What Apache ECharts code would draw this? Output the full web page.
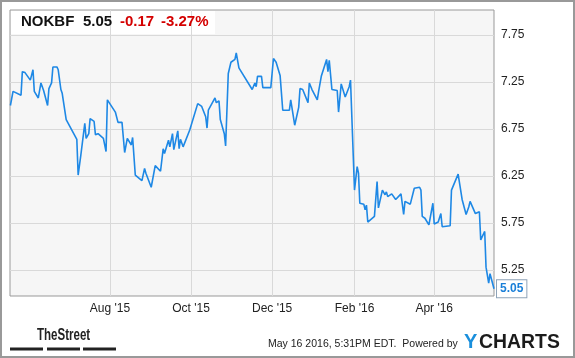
<!DOCTYPE html>
<html><head><meta charset="utf-8">
<script src="https://cdn.jsdelivr.net/npm/echarts@6/dist/echarts.min.js"></script>
<style>html,body{margin:0;padding:0;background:#fff}#c{width:575px;height:358px}</style>
</head><body><div id="c"></div>
<script>
var dates = ['2015-05-18','2015-05-20','2015-05-26','2015-05-27','2015-05-29','2015-06-02','2015-06-04','2015-06-05','2015-06-08','2015-06-10',
'2015-06-12','2015-06-15','2015-06-16','2015-06-18','2015-06-19','2015-06-22','2015-06-23','2015-06-25','2015-06-26','2015-06-29',
'2015-06-30','2015-07-07','2015-07-08','2015-07-10','2015-07-13','2015-07-14','2015-07-16','2015-07-17','2015-07-20','2015-07-21',
'2015-07-23','2015-07-27','2015-07-29','2015-07-30','2015-07-31','2015-08-05','2015-08-07','2015-08-10','2015-08-12','2015-08-14',
'2015-08-17','2015-08-18','2015-08-20','2015-08-25','2015-08-27','2015-08-28','2015-09-01','2015-09-04','2015-09-08','2015-09-10',
'2015-09-11','2015-09-14','2015-09-15','2015-09-17','2015-09-18','2015-09-21','2015-09-22','2015-09-23','2015-09-25','2015-09-30',
'2015-10-06','2015-10-09','2015-10-12','2015-10-13','2015-10-14','2015-10-19','2015-10-20','2015-10-22','2015-10-23','2015-10-26',
'2015-10-27','2015-10-28','2015-10-29','2015-10-31','2015-11-03','2015-11-04','2015-11-06','2015-11-16','2015-11-18','2015-11-19',
'2015-11-20','2015-11-23','2015-11-24','2015-11-30','2015-12-02','2015-12-04','2015-12-07','2015-12-09','2015-12-14','2015-12-15',
'2015-12-18','2015-12-21','2015-12-22','2015-12-24','2015-12-28','2015-12-29','2015-12-31','2016-01-04','2016-01-05','2016-01-07',
'2016-01-11','2016-01-12','2016-01-13','2016-01-15','2016-01-19','2016-01-20','2016-01-22','2016-01-25','2016-01-28','2016-01-29',
'2016-02-01','2016-02-03','2016-02-04','2016-02-05','2016-02-08','2016-02-09','2016-02-10','2016-02-11','2016-02-16','2016-02-18',
'2016-02-19','2016-02-22','2016-02-24','2016-02-25','2016-02-26','2016-02-29','2016-03-01','2016-03-03','2016-03-07','2016-03-08',
'2016-03-09','2016-03-10','2016-03-14','2016-03-15','2016-03-17','2016-03-21','2016-03-22','2016-03-23','2016-03-25','2016-03-28',
'2016-03-31','2016-04-01','2016-04-04','2016-04-06','2016-04-07','2016-04-13','2016-04-14','2016-04-19','2016-04-22','2016-04-25',
'2016-04-27','2016-04-28','2016-05-02','2016-05-03','2016-05-05','2016-05-06','2016-05-09','2016-05-10','2016-05-12','2016-05-13',
'2016-05-16'];
var prices = [7.00,7.15,7.11,7.36,7.35,7.27,7.38,7.15,7.08,7.24,
7.16,7.00,7.18,7.24,7.41,7.41,7.38,7.17,7.13,6.85,
6.83,6.64,6.26,6.47,6.81,6.65,6.70,6.86,6.83,6.69,
6.70,6.65,6.51,7.06,7.08,6.93,6.82,6.82,6.50,6.65,
6.58,6.66,6.26,6.20,6.33,6.28,6.13,6.36,6.30,6.54,
6.49,6.63,6.56,6.70,6.53,6.73,6.54,6.64,6.56,6.74,
7.02,6.99,6.88,6.76,6.95,7.08,7.03,7.05,6.85,6.70,
6.57,6.58,7.34,7.46,7.49,7.56,7.40,7.17,7.24,7.20,
7.31,7.31,7.19,7.19,7.50,7.46,7.32,6.95,6.95,7.06,
6.79,6.98,7.18,7.17,7.03,7.24,7.17,7.06,7.15,7.31,
7.49,7.36,7.48,7.17,7.16,6.93,7.23,7.09,7.20,7.27,
6.10,6.35,6.28,5.96,5.95,5.89,5.94,5.76,5.82,6.19,
5.91,6.10,6.05,6.08,6.03,6.06,6.07,6.00,6.06,6.06,
5.84,5.98,5.95,5.95,6.12,6.13,6.10,5.82,5.80,5.73,
5.96,5.74,5.76,5.85,5.71,5.72,6.10,6.27,6.00,5.84,
5.92,5.98,5.85,5.87,5.87,5.57,5.66,5.28,5.11,5.21,
5.05];
var yTicks = [5.25, 5.75, 6.25, 6.75, 7.25, 7.75];
var xTickDates = ['2015-08-01','2015-10-01','2015-12-01','2016-02-01','2016-04-01'];
var monthNames = ['Jan','Feb','Mar','Apr','May','Jun','Jul','Aug','Sep','Oct','Nov','Dec'];
var ticker = 'NOKBF', lastPrice = '5.05', change = '-0.17', changePct = '-3.27%';
var footerText = 'May 16 2016, 5:31PM EDT.  Powered by';

function ts(s){ var p = s.split('-'); return new Date(+p[0], +p[1]-1, +p[2]).getTime(); }
var xTicks = xTickDates.map(ts);
var seriesData = dates.map(function(d,i){ return [ts(d), prices[i]]; });

var FONT = '"Liberation Sans", Arial, sans-serif';
var chart = echarts.init(document.getElementById('c'), null, {renderer:'canvas'});
chart.setOption({
  animation: false,
  grid: {left: 10, right: 81, top: 10, bottom: 62, show: true, backgroundColor: '#f6f6f6', borderColor: '#999', borderWidth: 1, z: 0},
  xAxis: {
    type: 'value', z: 5,
    min: new Date(2015, 4, 17, 17).getTime(), max: ts('2016-05-16'),
    axisLine: {show: false}, axisTick: {show: false, customValues: xTicks},
    axisLabel: {customValues: xTicks, margin: 7, color: '#222', fontFamily: FONT, fontSize: 12,
      formatter: function(v){ var d = new Date(v); return monthNames[d.getMonth()] + " '" + String(d.getFullYear()).slice(2); }},
    splitLine: {show: true, lineStyle: {color: '#d9d9d9', width: 1}}
  },
  yAxis: {
    type: 'value', position: 'right', z: 5,
    min: 4.973, max: 8.016,
    axisLine: {show: false}, axisTick: {show: false, customValues: yTicks},
    axisLabel: {customValues: yTicks, margin: 7, color: '#222', fontFamily: FONT, fontSize: 12,
      formatter: function(v){ return v.toFixed(2); }},
    splitLine: {show: true, lineStyle: {color: '#d9d9d9', width: 1}}
  },
  series: [{
    type: 'line', z: 6, data: seriesData, showSymbol: false, symbol: 'none',
    lineStyle: {color: '#1e88e5', width: 1.6}, itemStyle: {color: '#1e88e5'},
    endLabel: {show: true, formatter: lastPrice, distance: 3, color: '#1a7fd8', fontWeight: 'bold', fontSize: 12, fontFamily: FONT,
      backgroundColor: '#fff', borderColor: '#8ea3b8', borderWidth: 1, padding: [3, 3, 2, 3]}
  }],
  graphic: [
    {type: 'rect', z: 1, silent: true, shape: {x: 1, y: 1, width: 573, height: 356}, style: {fill: 'none', stroke: '#999', lineWidth: 2}},
    {type: 'rect', z: 1, silent: true, shape: {x: 11, y: 11, width: 204, height: 23}, style: {fill: '#fff'}},
    {type: 'text', z: 10, x: 21, y: 22, style: {text: ticker, font: 'bold 15px ' + FONT, fill: '#111', verticalAlign: 'middle'}},
    {type: 'text', z: 10, x: 83, y: 22, style: {text: lastPrice, font: 'bold 15px ' + FONT, fill: '#111', verticalAlign: 'middle'}},
    {type: 'text', z: 10, x: 120, y: 22, style: {text: change, font: 'bold 15px ' + FONT, fill: '#d40000', verticalAlign: 'middle'}},
    {type: 'text', z: 10, x: 161, y: 22, style: {text: changePct, font: 'bold 15px ' + FONT, fill: '#d40000', verticalAlign: 'middle'}},
    {type: 'text', z: 10, x: 37, y: 336, scaleX: 0.72, style: {text: 'TheStreet', font: 'bold 16px ' + FONT, fill: '#222', verticalAlign: 'middle'}},
    {type: 'rect', z: 10, shape: {x: 10, y: 347.5, width: 33, height: 3}, style: {fill: '#222'}},
    {type: 'rect', z: 10, shape: {x: 47, y: 347.5, width: 33, height: 3}, style: {fill: '#222'}},
    {type: 'rect', z: 10, shape: {x: 83, y: 347.5, width: 33, height: 3}, style: {fill: '#222'}},
    {type: 'text', z: 10, x: 268, y: 344, scaleX: 0.955, style: {text: footerText, font: '11px ' + FONT, fill: '#222', verticalAlign: 'middle'}},
    {type: 'text', z: 10, x: 464, y: 342, style: {text: 'Y', font: 'bold 20px ' + FONT, fill: '#1a8fdc', verticalAlign: 'middle'}},
    {type: 'text', z: 10, x: 479, y: 342, scaleX: 0.97, style: {text: 'CHARTS', font: 'bold 20px ' + FONT, fill: '#1b1b1b', verticalAlign: 'middle'}}
  ]
});
</script></body></html>
